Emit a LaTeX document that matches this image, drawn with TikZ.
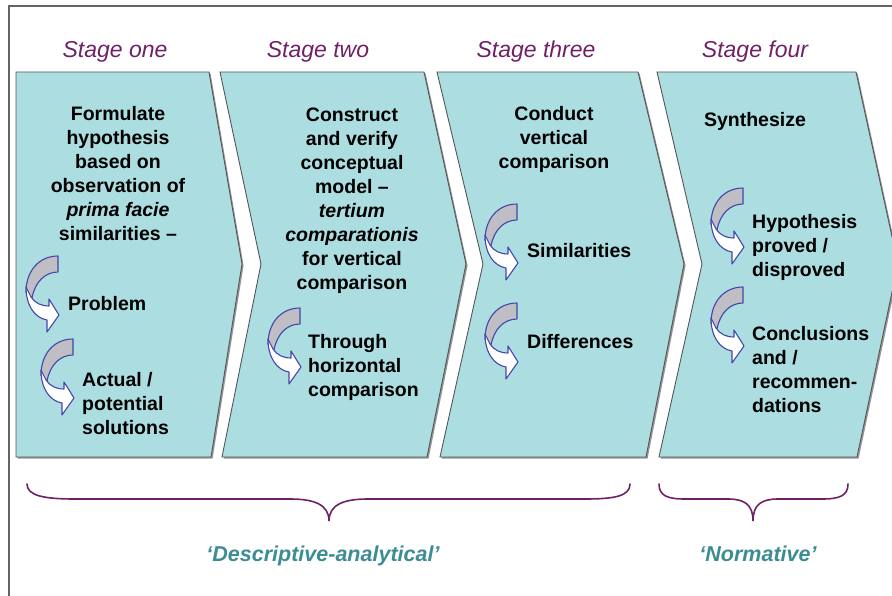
\documentclass[tikz,border=0pt]{standalone}
\usepackage{fontspec}
\setmainfont{Liberation Sans}
\definecolor{stagefill}{RGB}{172,221,225}
\definecolor{stageline}{RGB}{85,85,85}
\definecolor{shadowc}{RGB}{150,150,150}
\definecolor{titlec}{RGB}{112,32,102}
\definecolor{labelc}{RGB}{60,140,148}
\definecolor{arrowblue}{RGB}{70,70,170}
\definecolor{arrowgray}{RGB}{190,190,196}
\definecolor{framec}{RGB}{100,100,100}
\tikzset{
  stageshape/.style={fill=stagefill, draw=stageline, line width=0.9pt, line join=miter},
  stageshadow/.style={fill=shadowc},
  titletext/.style={font=\itshape\fontsize{23}{27}\selectfont, text=titlec, inner sep=0pt, anchor=base},
  bodyc/.style={font=\bfseries\fontsize{19.5}{24}\selectfont, inner sep=0pt, align=center, anchor=north},
  bodyl/.style={font=\bfseries\fontsize{19.5}{24}\selectfont, inner sep=0pt, align=left, anchor=north west},
  bracec/.style={draw=titlec, line width=1.6pt, line cap=round},
  labeltext/.style={font=\bfseries\itshape\fontsize{21.5}{26}\selectfont, text=labelc, inner sep=0pt, anchor=base},
  curvarrow/.pic={
    \filldraw[fill=arrowgray, draw=arrowblue, line width=1.1pt, line join=round]
      (32,0) .. controls (13,0) and (0,15) .. (0,36) -- (6,42)
      .. controls (9,26) and (19,16) .. (32,16) -- cycle;
    \filldraw[fill=white, draw=arrowblue, line width=1.1pt, line join=round]
      (0,31) .. controls (0,50) and (9,62) .. (21,64) -- (21,76) -- (33,59)
      -- (23,43) -- (23,50) .. controls (15,50) and (9,47) .. (5,41) -- cycle;
  }
}
\begin{document}
\begin{tikzpicture}[x=1pt,y=-1pt]
\useasboundingbox (0,0) rectangle (892,596);
\clip (0,0) rectangle (892,596);
% frame
\draw[framec, line width=1.6pt] (9,597) -- (9,6) -- (893,6);
% shadows
\begin{scope}[shift={(1.6,1.6)}]
\fill[stageshadow] (16,72) -- (209,72) -- (242,264) -- (211,457) -- (16,457) -- cycle;
\fill[stageshadow] (220,72) -- (424,72) -- (466,264) -- (427,457) -- (222,457) -- (261,264) -- cycle;
\fill[stageshadow] (437,72) -- (638,72) -- (684,264) -- (646,457) -- (440,457) -- (483,264) -- cycle;
\fill[stageshadow] (657,72) -- (856,72) -- (898,264) -- (857,457) -- (659,457) -- (702,264) -- cycle;
\end{scope}
% stages
\path[stageshape] (16,72) -- (209,72) -- (242,264) -- (211,457) -- (16,457) -- cycle;
\path[stageshape] (220,72) -- (424,72) -- (466,264) -- (427,457) -- (222,457) -- (261,264) -- cycle;
\path[stageshape] (437,72) -- (638,72) -- (684,264) -- (646,457) -- (440,457) -- (483,264) -- cycle;
\path[stageshape] (657,72) -- (856,72) -- (898,264) -- (857,457) -- (659,457) -- (702,264) -- cycle;
% titles
\node[titletext] (t1) at (115,57.5) {Stage one};
\node[titletext] (t2) at (318,57.5) {Stage two};
\node[titletext] (t3) at (536,57.5) {Stage three};
\node[titletext] (t4) at (755,57.5) {Stage four};
% stage one
\node[bodyc] (s1) at (118,106.5) {Formulate\\hypothesis\\based on\\observation of\\\textit{prima facie}\\similarities –};
\pic at (26,256) {curvarrow};
\node[bodyl] (s1a) at (68,296.5) {Problem};
\pic at (41,339) {curvarrow};
\node[bodyl] (s1b) at (82,372.5) {Actual /\\potential\\solutions};
% stage two
\node[bodyc] (s2) at (352,107.5) {Construct\\and verify\\conceptual\\model –\\\textit{tertium}\\\textit{comparationis}\\for vertical\\comparison};
\pic at (268,308) {curvarrow};
\node[bodyl] (s2a) at (308,334.5) {Through\\horizontal\\comparison};
% stage three
\node[bodyc] (s3) at (554,106.5) {Conduct\\vertical\\comparison};
\pic at (485,204) {curvarrow};
\node[bodyl] (s3a) at (527,243.5) {Similarities};
\pic at (485,303) {curvarrow};
\node[bodyl] (s3b) at (527,334.5) {Differences};
% stage four
\node[bodyc] (s4) at (755,112.5) {Synthesize};
\pic at (711,188) {curvarrow};
\node[bodyl] (s4a) at (752,214.5) {Hypothesis\\proved /\\disproved};
\pic at (711,287) {curvarrow};
\node[bodyl] (s4b) at (752,326.5) {Conclusions\\and /\\recommen-\\dations};
% braces
\coordinate (b1l) at (27,484);
\coordinate (b1m) at (329,521);
\coordinate (b1r) at (630,484);
\draw[bracec] (b1l) .. controls (27,496) and (45,499) .. (75,499) -- (290,499)
  .. controls (315,499) and (329,505) .. (b1m)
  .. controls (329,505) and (343,499) .. (368,499) -- (585,499)
  .. controls (615,499) and (630,496) .. (b1r);
\coordinate (b2l) at (659,484);
\coordinate (b2m) at (753,521);
\coordinate (b2r) at (848,484);
\draw[bracec] (b2l) .. controls (659,496) and (668,499) .. (685,499) -- (728,499)
  .. controls (745,499) and (753,505) .. (b2m)
  .. controls (753,505) and (761,499) .. (778,499) -- (822,499)
  .. controls (839,499) and (848,496) .. (b2r);
\node[labeltext] (l1) at (323,561) {‘Descriptive-analytical’};
\node[labeltext] (l2) at (758,561) {‘Normative’};
\end{tikzpicture}
\end{document}
